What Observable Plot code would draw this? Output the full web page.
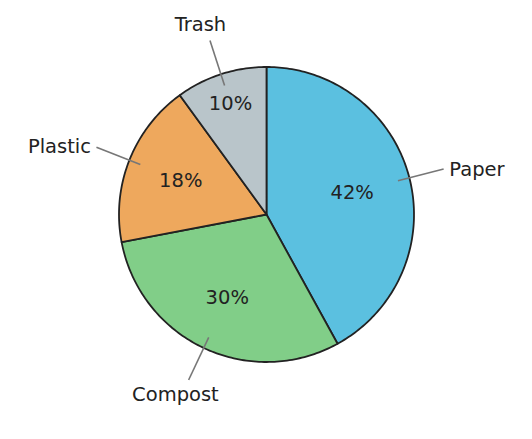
<!DOCTYPE html>
<html>
<head>
<meta charset="utf-8">
<script src="https://cdn.jsdelivr.net/npm/d3@7"></script>
<script src="https://cdn.jsdelivr.net/npm/@observablehq/plot@0.6"></script>
<style>
  html, body { margin: 0; padding: 0; background: #fff; }
</style>
</head>
<body>
<div id="chart"></div>
<script>
// Data
const categories = ["Paper", "Compost", "Plastic", "Trash"];
const percents = [42, 30, 18, 10];

// Slice geometry (angles clockwise from 12 o'clock)
const total = d3.sum(percents);
let acc = 0;
const slices = categories.map((c, i) => {
  const start = acc / total * 2 * Math.PI;
  acc += percents[i];
  const end = acc / total * 2 * Math.PI;
  const mid = (start + end) / 2;
  const s = Math.sin(mid);
  const anchor = s > 0.5 ? "start" : s < -0.5 ? "end" : "middle";
  return {category: c, pct: percents[i], start, end, mid, anchor};
});

// Outline points of each wedge
const wedgePoints = slices.flatMap(d => {
  const n = Math.max(2, Math.ceil((d.end - d.start) / (Math.PI / 180)));
  const pts = [{category: d.category, x: 0, y: 0}];
  for (let k = 0; k <= n; k++) {
    const a = d.start + (d.end - d.start) * k / n;
    pts.push({category: d.category, x: Math.sin(a), y: Math.cos(a)});
  }
  pts.push({category: d.category, x: 0, y: 0});
  return pts;
});

const R = 147.5; // pixels per unit radius
const W = 532, H = 439, CX = 266, CY = 214;

// inner percent label radius: small wedges push label outward
const pctR = d => d.pct < 15 ? 0.79 : d.pct > 40 ? 0.6 : 0.625;
// outer name label radii (x, y)
const nameRx = d => d.anchor === "middle" ? 1.45 : 1.28;
const nameRy = d => d.anchor === "middle" ? 1.35 : 1.28;

const chart = Plot.plot({
  width: W,
  height: H,
  margin: 0,
  x: {domain: [-CX / R, (W - CX) / R], axis: null},
  y: {domain: [(CY - H) / R, CY / R], axis: null},
  color: {domain: categories, range: ["#5bc0e0", "#81ce88", "#eea85d", "#b9c5ca"]},
  style: {background: "#fff", fontFamily: "DejaVu Sans, sans-serif"},
  marks: [
    Plot.line(wedgePoints, {x: "x", y: "y", z: "category", fill: "category", stroke: "#222", strokeWidth: 1.8, strokeLinejoin: "round", curve: "linear"}),
    Plot.text(slices, {x: d => pctR(d) * Math.sin(d.mid), y: d => pctR(d) * Math.cos(d.mid), text: d => d.pct + "%", fontSize: 19.5, fill: "#222"}),
    Plot.link(slices, {
      x1: d => 0.92 * Math.sin(d.mid), y1: d => 0.92 * Math.cos(d.mid),
      x2: d => 1.24 * Math.sin(d.mid), y2: d => 1.24 * Math.cos(d.mid),
      stroke: "#777", strokeWidth: 1.6
    }),
    ...["start", "end", "middle"].map(anchor =>
      Plot.text(slices.filter(d => d.anchor === anchor), {
        x: d => nameRx(d) * Math.sin(d.mid),
        y: d => nameRy(d) * Math.cos(d.mid),
        text: "category",
        textAnchor: anchor,
        dy: anchor === "middle" ? 0 : 2,
        fontSize: 19.5,
        fill: "#222"
      })
    )
  ]
});
document.getElementById("chart").appendChild(chart);
</script>
</body>
</html>
